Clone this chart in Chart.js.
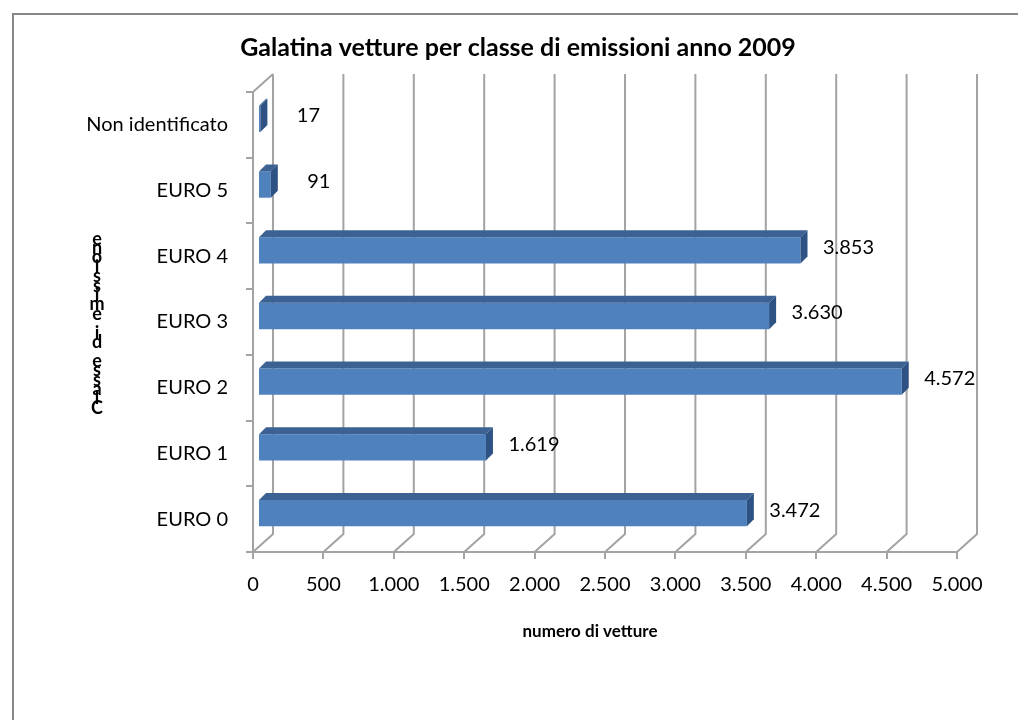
<!DOCTYPE html>
<html>
<head>
<meta charset="utf-8">
<script src="https://cdn.jsdelivr.net/npm/chart.js@4.4.1/dist/chart.umd.min.js"></script>
<style>
html,body{margin:0;padding:0;background:#fff;}
#c{display:block;}
</style>
</head>
<body>
<canvas id="c" width="1018" height="720"></canvas>
<script>
const categories = ['Non identificato', 'EURO 5', 'EURO 4', 'EURO 3', 'EURO 2', 'EURO 1', 'EURO 0'];
const vehicles = [17, 91, 3853, 3630, 4572, 1619, 3472];
const xTickMin = 0, xTickMax = 5000, xTickStep = 500;
const chartTitle = 'Galatina vetture per classe di emissioni anno 2009';
const xTitle = 'numero di vetture';
const yTitle = 'Classe di emissione';

const FONT = 'Lato, "Open Sans", "DejaVu Sans", sans-serif';
const fmt = v => Math.round(v).toString().replace(/\B(?=(\d{3})+(?!\d))/g, '.');
const DX = 20, DY = -18;     // wall depth
const BD = 7;                // bar depth
const GRID = '#a3a3a3';

const deco = {
  id: 'deco',
  beforeDraw(chart) {
    const ctx = chart.ctx, a = chart.chartArea, xs = chart.scales.x;
    ctx.save();
    ctx.fillStyle = '#fff';
    ctx.fillRect(0, 0, chart.width, chart.height);
    ctx.strokeStyle = '#878787';
    ctx.lineWidth = 2;
    ctx.strokeRect(13, 14, 1100, 800);
    ctx.strokeStyle = GRID;
    ctx.lineWidth = 2;
    for (let v = xTickMin; v <= xTickMax; v += xTickStep) {
      const px = xs.getPixelForValue(v);
      ctx.beginPath();
      ctx.moveTo(px, a.bottom);
      ctx.lineTo(px + DX, a.bottom + DY);
      ctx.lineTo(px + DX, a.top + DY);
      ctx.stroke();
    }
    ctx.beginPath();
    ctx.moveTo(a.left, a.top);
    ctx.lineTo(a.left + DX, a.top + DY);
    ctx.stroke();
    ctx.restore();
  },
  beforeDatasetsDraw(chart) {
    chart.ctx.save();
    chart.ctx.translate(5, -6);
  },
  afterDatasetsDraw(chart) {
    const ctx = chart.ctx;
    const meta = chart.getDatasetMeta(0);
    meta.data.forEach(bar => {
      const p = bar.getProps(['x', 'y', 'base', 'height'], true);
      const t = p.y - p.height / 2, b = p.y + p.height / 2;
      ctx.fillStyle = '#3b6293';
      ctx.beginPath();
      ctx.moveTo(p.base, t);
      ctx.lineTo(p.x, t);
      ctx.lineTo(p.x + BD, t - BD);
      ctx.lineTo(p.base + BD, t - BD);
      ctx.closePath();
      ctx.fill();
      ctx.fillStyle = '#2e5283';
      ctx.beginPath();
      ctx.moveTo(p.x, t);
      ctx.lineTo(p.x + BD, t - BD);
      ctx.lineTo(p.x + BD, b - BD);
      ctx.lineTo(p.x, b);
      ctx.closePath();
      ctx.fill();
    });
    ctx.restore();
  },
  afterDraw(chart) {
    const ctx = chart.ctx, xs = chart.scales.x, ys = chart.scales.y;
    ctx.save();
    ctx.fillStyle = '#000';
    ctx.font = '20px ' + FONT;
    ctx.textAlign = 'center';
    ctx.textBaseline = 'middle';
    vehicles.forEach((v, i) => {
      ctx.fillText(fmt(v), xs.getPixelForValue(v) + 53, ys.getPixelForValue(i) - 9);
    });
    ctx.font = 'bold 25px ' + FONT;
    ctx.fillText(chartTitle, 518, 48);
    ctx.font = 'bold 17px ' + FONT;
    ctx.fillText(xTitle, 590, 632);
    // y title: stacked upright letters (as in source)
    ctx.font = 'bold 18px ' + FONT;
    const chars = yTitle.split('');
    chars.forEach((ch, i) => {
      if (ch !== ' ') ctx.fillText(ch, 97, 408 - i * 9.4);
    });
    ctx.restore();
  }
};

new Chart(document.getElementById('c'), {
  type: 'bar',
  data: {
    labels: categories,
    datasets: [{
      data: vehicles,
      backgroundColor: '#4f81bd',
      borderWidth: 0,
      barPercentage: 0.4,
      categoryPercentage: 1.0
    }]
  },
  options: {
    indexAxis: 'y',
    responsive: false,
    animation: false,
    layout: { padding: { left: 0, top: 92, right: 61, bottom: 0 } },
    plugins: { legend: { display: false }, tooltip: { enabled: false }, title: { display: false } },
    scales: {
      x: {
        min: xTickMin, max: xTickMax,
        afterFit(s) { s.height = 168; },
        ticks: { stepSize: xTickStep, color: '#000', padding: 14, maxRotation: 0,
                 font: { family: FONT, size: 20 }, callback: v => fmt(v) },
        grid: { drawOnChartArea: false, tickLength: 7, color: GRID, lineWidth: 2 },
        border: { display: true, color: GRID, width: 2 }
      },
      y: {
        afterFit(s) { s.width = 253; },
        ticks: { color: '#000', padding: 18, font: { family: FONT, size: 20 } },
        grid: { drawOnChartArea: false, tickLength: 7, color: GRID, lineWidth: 2 },
        border: { display: true, color: GRID, width: 2 }
      }
    }
  },
  plugins: [deco]
});
</script>
</body>
</html>
